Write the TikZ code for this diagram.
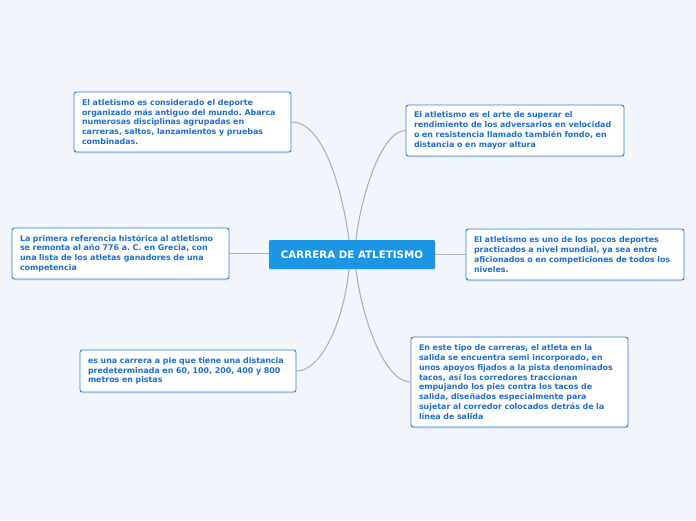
\documentclass[tikz,border=0pt]{standalone}
\usepackage{fontspec}
\setmainfont{DejaVu Sans}
\usetikzlibrary{shadows}
\definecolor{bg}{HTML}{F3F5FC}
\definecolor{boxline}{HTML}{2A7FD8}
\definecolor{boxtext}{HTML}{1B6FD2}
\definecolor{mainfill}{HTML}{1C95E4}
\definecolor{link}{HTML}{AEB0B8}
\tikzset{
  topic/.style={draw=boxline, line width=0.9pt, fill=white, rounded corners=2.5pt,
    drop shadow={shadow xshift=0pt, shadow yshift=-1.5pt, opacity=0.18},
    font=\fontsize{7.9}{9.8}\selectfont\bfseries, text=boxtext, align=left,
    inner xsep=8pt, inner ysep=0pt, anchor=center},
  central/.style={fill=mainfill, rounded corners=1pt, text=white,
    font=\fontsize{10.3}{12}\selectfont\bfseries, minimum width=166pt, minimum height=29pt,
    inner sep=0pt,
    drop shadow={shadow xshift=0pt, shadow yshift=-1.2pt, opacity=0.15}},
  linkline/.style={draw=link, line width=1.1pt}
}
\frenchspacing
\begin{document}
\begin{tikzpicture}[x=1pt,y=-1pt]
\useasboundingbox[fill=bg] (0,0) rectangle (696,520);

\node[central] (c) at (352,254.5) {CARRERA DE ATLETISMO};

\node[topic, minimum width=217pt, minimum height=60pt, text width=201pt] (b1) at (182.5,122)
 {El atletismo es considerado el deporte\\organizado más antiguo del mundo. Abarca\\numerosas disciplinas agrupadas en\\carreras, saltos, lanzamientos y pruebas\\combinadas.};

\node[topic, minimum width=218pt, minimum height=51pt, text width=202pt] (b2) at (515,130.5)
 {El atletismo es el arte de superar el\\rendimiento de los adversarios en velocidad\\o en resistencia llamado también fondo, en\\distancia o en mayor altura};

\node[topic, minimum width=217pt, minimum height=51pt, text width=201pt] (b3) at (120.5,253.5)
 {La primera referencia histórica al atletismo\\se remonta al año 776 a. C. en Grecia, con\\una lista de los atletas ganadores de una\\competencia};

\node[topic, minimum width=218pt, minimum height=51pt, text width=202pt] (b4) at (575,254.5)
 {El atletismo es uno de los pocos deportes\\practicados a nivel mundial, ya sea entre\\aficionados o en competiciones de todos los\\niveles.};

\node[topic, minimum width=216pt, minimum height=42pt, text width=200pt] (b5) at (188,371)
 {es una carrera a pie que tiene una distancia\\predeterminada en 60, 100, 200, 400 y 800\\metros en pistas};

\node[topic, minimum width=217pt, minimum height=90pt, text width=201pt] (b6) at (519.5,382)
 {En este tipo de carreras, el atleta en la\\salida se encuentra semi incorporado, en\\unos apoyos fijados a la pista denominados\\tacos, así los corredores traccionan\\empujando los pies contra los tacos de\\salida, diseñados especialmente para\\sujetar al corredor colocados detrás de la\\línea de salida};

\coordinate (t1) at (349,240);
\coordinate (t2) at (356,240);
\coordinate (u1) at (349,269);
\coordinate (u2) at (356,269);

\draw[linkline] (b1.east) .. controls (325,122) and (343,195) .. (t1);
\draw[linkline] (b2.west) .. controls (382,130) and (361,195) .. (t2);
\draw[linkline] (b3.east) -- (c.west |- b3.east);
\draw[linkline] (c.east |- b4.west) -- (b4.west);
\draw[linkline] (u1) .. controls (344,320) and (322,371) .. (b5.east);
\draw[linkline] (u2) .. controls (362,320) and (385,382) .. (b6.west);
\end{tikzpicture}
\end{document}
